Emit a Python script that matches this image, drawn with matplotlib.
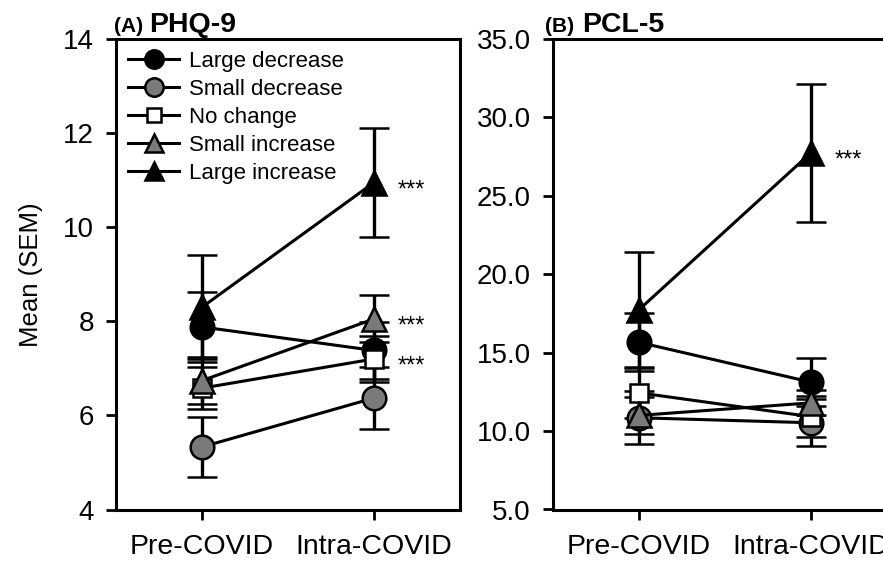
import matplotlib
matplotlib.use("Agg")
import matplotlib.pyplot as plt
import numpy as np

plt.rcParams['font.family'] = ['Liberation Sans', 'DejaVu Sans']

# time points
timepoints = ['Pre-COVID', 'Intra-COVID']
groups = ['Large decrease', 'Small decrease', 'No change', 'Small increase', 'Large increase']

# PHQ-9 means / SEM (pre, intra)
phq_mean = {
    'Large decrease': [7.88, 7.38],
    'Small decrease': [5.33, 6.37],
    'No change': [6.58, 7.20],
    'Small increase': [6.74, 8.05],
    'Large increase': [8.30, 10.95],
}
phq_sem = {
    'Large decrease': [0.74, 0.60],
    'Small decrease': [0.63, 0.65],
    'No change': [0.45, 0.48],
    'Small increase': [0.50, 0.50],
    'Large increase': [1.10, 1.16],
}
phq_sig = ['No change', 'Small increase', 'Large increase']

# PCL-5 means / SEM (pre, intra)
pcl_mean = {
    'Large decrease': [15.66, 13.12],
    'Small decrease': [10.85, 10.53],
    'No change': [12.44, 10.92],
    'Small increase': [11.00, 11.80],
    'Large increase': [17.74, 27.75],
}
pcl_sem = {
    'Large decrease': [1.85, 1.55],
    'Small decrease': [1.70, 1.50],
    'No change': [1.60, 1.30],
    'Small increase': [1.20, 0.80],
    'Large increase': [3.67, 4.40],
}
pcl_sig = ['Large increase']

grey = '#7a7a7a'
styles = {
    'Large decrease': dict(marker='o', mfc='black', ms=17),
    'Small decrease': dict(marker='o', mfc=grey, ms=17),
    'No change': dict(marker='s', mfc='white', ms=13),
    'Small increase': dict(marker='^', mfc=grey, ms=17),
    'Large increase': dict(marker='^', mfc='black', ms=17),
}

fig = plt.figure(figsize=(8.83, 5.62), dpi=100)
ax1 = fig.add_axes([116/883, 52.5/562, 344/883, 470.5/562])
ax2 = fig.add_axes([553/883, 52.5/562, 344/883, 470.5/562])

x = np.array([1, 2])


def draw_panel(ax, means, sems, sig, ylim, yticks, fmt, tag, name, tag_dx, name_dx):
    for g in groups:
        st = styles[g]
        ax.errorbar(x, means[g], yerr=sems[g], color='black', lw=2.2,
                    elinewidth=2.4, capsize=11, capthick=2.4,
                    marker=st['marker'], ms=st['ms'], mfc=st['mfc'],
                    mec='black', mew=1.8, label=g)
    for g in sig:
        ax.annotate('***', xy=(2, means[g][1]), xytext=(17, -10),
                    textcoords='offset points', ha='left', va='baseline',
                    fontsize=17)
    ax.set_xlim(0.5, 2.5)
    ax.set_ylim(*ylim)
    ax.set_yticks(yticks)
    ax.set_yticklabels([fmt % v for v in yticks])
    ax.set_xticks(x)
    ax.set_xticklabels(timepoints)
    ax.tick_params(axis='y', direction='out', length=7, width=2, pad=9, labelsize=20)
    ax.tick_params(axis='x', direction='out', length=7, width=2, pad=11, labelsize=20.5)
    for sp in ax.spines.values():
        sp.set_linewidth(2.2)
    ax.annotate(tag, xy=(0, 1), xycoords='axes fraction', xytext=(tag_dx, 5),
                textcoords='offset points', ha='left', va='baseline',
                fontsize=15, fontweight='bold')
    ax.annotate(name, xy=(0, 1), xycoords='axes fraction', xytext=(name_dx, 5),
                textcoords='offset points', ha='left', va='baseline',
                fontsize=20.5, fontweight='bold')


draw_panel(ax1, phq_mean, phq_sem, phq_sig, (4, 14), [4, 6, 8, 10, 12, 14], '%d',
           '(A)', 'PHQ-9', -1.5, 23.5)
draw_panel(ax2, pcl_mean, pcl_sem, pcl_sig, (5, 35), [5, 10, 15, 20, 25, 30, 35], '%.1f',
           '(B)', 'PCL-5', -6, 21)

ax1.set_ylabel('Mean (SEM)', fontsize=18.5, labelpad=14)

handles, labels = ax1.get_legend_handles_labels()
handles = [h[0] for h in handles]
ax1.legend(handles, labels, loc='upper left', bbox_to_anchor=(0.035, 0.975),
           frameon=False, fontsize=16, markerscale=0.78, handlelength=2.3,
           handletextpad=0.45, labelspacing=0.32, borderpad=0, borderaxespad=0)

fig.savefig('out.png', dpi=100)
